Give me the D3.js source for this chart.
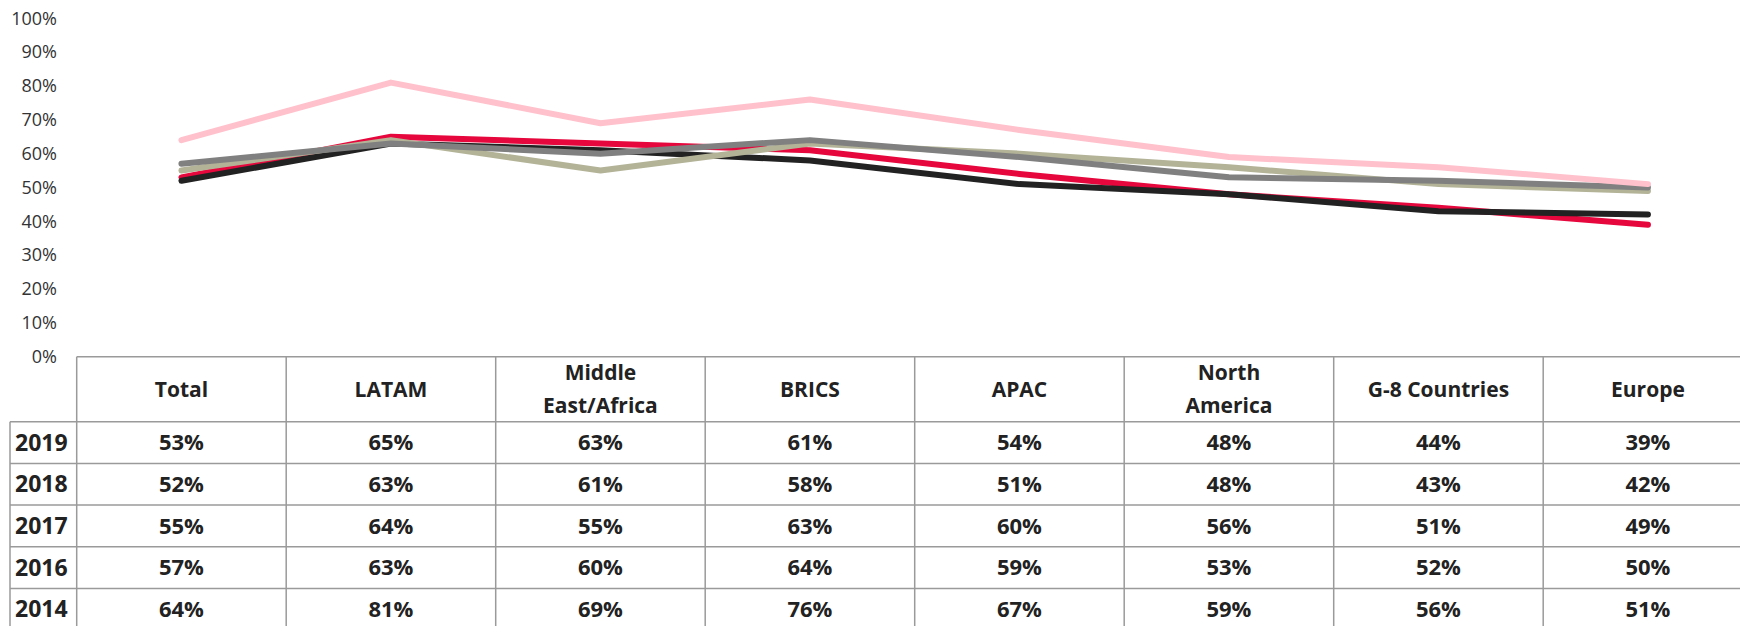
<!DOCTYPE html>
<html>
<head>
<meta charset="utf-8">
<script src="https://cdn.jsdelivr.net/npm/d3@7"></script>
<style>
  body { margin: 0; background: #fff; }
  svg { display: block; font-family: "Open Sans", sans-serif; }
</style>
</head>
<body>
<svg id="chart" width="1740" height="626"></svg>
<script>
// regions along the x axis (header labels, "\n" = line break)
const categories = ["Total", "LATAM", "Middle\nEast/Africa", "BRICS", "APAC", "North\nAmerica", "G-8 Countries", "Europe"];
const years = ["2019", "2018", "2017", "2016", "2014"];

const v2019 = [0.53, 0.65, 0.63, 0.61, 0.54, 0.48, 0.44, 0.39];
const v2018 = [0.52, 0.63, 0.61, 0.58, 0.51, 0.48, 0.43, 0.42];
const v2017 = [0.55, 0.64, 0.55, 0.63, 0.60, 0.56, 0.51, 0.49];
const v2016 = [0.57, 0.63, 0.60, 0.64, 0.59, 0.53, 0.52, 0.50];
const v2014 = [0.64, 0.81, 0.69, 0.76, 0.67, 0.59, 0.56, 0.51];

const yTicks = [0, 0.1, 0.2, 0.3, 0.4, 0.5, 0.6, 0.7, 0.8, 0.9, 1];
const colors = ["#e6073c", "#222222", "#b3b398", "#808080", "#ffc1cc"];

const series = years.map((y, i) => ({
    year: y,
    values: [v2019, v2018, v2017, v2016, v2014][i],
    color: colors[i]
}));

const svg = d3.select("#chart");
const pct = d3.format(".0%");

const x = d3.scaleBand()
    .domain(categories)
    .range([76.7, 1752.7]);

const y = d3.scaleLinear()
    .domain([0, 1])
    .range([356.7, 18.3]);

// y axis labels only
const yAxis = svg.append("g")
    .attr("transform", "translate(57,0)")
    .call(d3.axisLeft(y).tickValues(yTicks).tickFormat(pct).tickSize(0).tickPadding(0));
yAxis.select(".domain").remove();
yAxis.selectAll("text")
    .style("font-family", "'Open Sans', sans-serif")
    .style("font-size", "18px")
    .attr("fill", "#333");

// lines
const line = d3.line()
    .x((d, i) => x(categories[i]) + x.bandwidth() / 2)
    .y(d => y(d));

svg.append("g").selectAll("path")
    .data(series)
    .join("path")
    .attr("d", d => line(d.values))
    .attr("fill", "none")
    .attr("stroke", d => d.color)
    .attr("stroke-width", 6)
    .attr("stroke-linecap", "round")
    .attr("stroke-linejoin", "round");

// data table under the chart
const headerTop = y(0);
const headerH = 65;
const rowH = 41.7;
const labelLeft = 10;
const gridColor = "#9a9a9a";
const table = svg.append("g");

const rowY = i => headerTop + headerH + i * rowH;

// horizontal lines
table.append("line")
    .attr("x1", x.range()[0]).attr("x2", x.range()[1])
    .attr("y1", headerTop).attr("y2", headerTop);
years.forEach((yr, i) => {
    table.append("line")
        .attr("x1", labelLeft).attr("x2", x.range()[1])
        .attr("y1", rowY(i)).attr("y2", rowY(i));
});
table.append("line")
    .attr("x1", labelLeft).attr("x2", x.range()[1])
    .attr("y1", rowY(years.length)).attr("y2", rowY(years.length));

// vertical lines
categories.forEach(c => {
    table.append("line")
        .attr("x1", x(c)).attr("x2", x(c))
        .attr("y1", headerTop).attr("y2", rowY(years.length));
});
table.append("line")
    .attr("x1", x.range()[1]).attr("x2", x.range()[1])
    .attr("y1", headerTop).attr("y2", rowY(years.length));
table.append("line")
    .attr("x1", labelLeft).attr("x2", labelLeft)
    .attr("y1", rowY(0)).attr("y2", rowY(years.length));

table.selectAll("line")
    .attr("stroke", gridColor)
    .attr("stroke-width", 1.5);

// header text
const headers = table.append("g").selectAll("text")
    .data(categories)
    .join("text")
    .attr("x", d => x(d) + x.bandwidth() / 2)
    .attr("text-anchor", "middle")
    .attr("font-size", 21)
    .attr("font-weight", "bold")
    .attr("fill", "#222");
headers.each(function (d) {
    const parts = d.split("\n");
    const mid = headerTop + headerH / 2;
    parts.forEach((p, k) => {
        d3.select(this).append("tspan")
            .attr("x", x(d) + x.bandwidth() / 2)
            .attr("y", mid + (k - (parts.length - 1) / 2) * 33)
            .attr("dy", "0.35em")
            .text(p);
    });
});

// rows
series.forEach((s, i) => {
    table.append("text")
        .attr("x", 15)
        .attr("y", rowY(i) + rowH / 2)
        .attr("dy", "0.35em")
        .attr("font-size", 23)
        .attr("font-weight", "bold")
        .attr("fill", "#222")
        .text(s.year);

    table.append("g").selectAll("text")
        .data(s.values)
        .join("text")
        .attr("x", (d, k) => x(categories[k]) + x.bandwidth() / 2)
        .attr("y", rowY(i) + rowH / 2)
        .attr("dy", "0.35em")
        .attr("text-anchor", "middle")
        .attr("font-size", 22)
        .attr("font-weight", "bold")
        .attr("fill", "#222")
        .text(d => pct(d));
});
</script>
</body>
</html>
